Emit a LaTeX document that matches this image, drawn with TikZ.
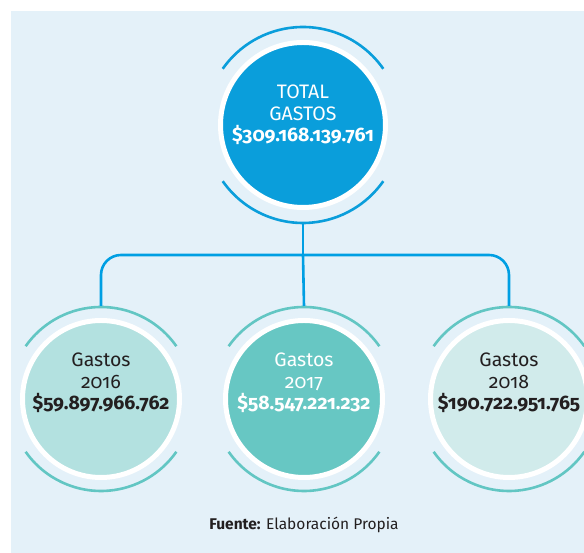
\documentclass[tikz,border=0pt]{standalone}
\usepackage{fontspec}
\setmainfont{Fira Sans}[Numbers=OldStyle]
\definecolor{bg}{HTML}{E4F1F9}
\definecolor{topblue}{HTML}{0A9EDB}
\definecolor{lineblue}{HTML}{009FE3}
\definecolor{teal}{HTML}{62C6C3}
\definecolor{fillA}{HTML}{B3E1E0}
\definecolor{fillB}{HTML}{67C7C3}
\definecolor{fillC}{HTML}{D1EBEB}
\definecolor{ink}{HTML}{231F20}
\tikzset{
  bigcirc/.style={circle, draw=white, line width=5pt, inner sep=0pt, minimum size=165pt},
  smallcirc/.style={circle, draw=white, line width=5pt, inner sep=0pt, minimum size=157pt},
  txt/.style={align=center, inner sep=0pt, font=\fontsize{19.5}{21.5}\selectfont},
  conn/.style={draw=lineblue, line width=2.6pt},
  toparc/.style={draw=topblue, line width=2.6pt},
  botarc/.style={draw=teal, line width=2.6pt}
}
\begin{document}
\begin{tikzpicture}[x=1pt,y=1pt]
\useasboundingbox (0,0) rectangle (584,553);
\fill[bg] (11,0) rectangle (584,542);
% circles
\node[bigcirc, fill=topblue] (top) at (303,428) {};
\node[smallcirc, fill=fillA] (c16) at (101,154) {};
\node[smallcirc, fill=fillB] (c17) at (304,154) {};
\node[smallcirc, fill=fillC] (c18) at (509,154) {};
% texts
\node[txt, text=white] (ttop) at ([yshift=10pt]top.center) {TOTAL\\GASTOS\\\textbf{\$309.168.139.761}};
\node[txt, text=ink] (t16) at ([yshift=16pt]c16.center) {Gastos\\2016\\\textbf{\$59.897.966.762}};
\node[txt, text=white] (t17) at ([yshift=16pt]c17.center) {Gastos\\2017\\\textbf{\$58.547.221.232}};
\node[txt, text=ink] (t18) at ([yshift=16pt]c18.center) {Gastos\\2018\\\textbf{\$190.722.951.765}};
% outer arcs
\draw[toparc] ([shift={(35:98)}]top.center) arc[start angle=35, end angle=145, radius=98];
\draw[toparc] ([shift={(215:98)}]top.center) arc[start angle=215, end angle=325, radius=98];
\foreach \c in {c16,c17,c18}{
  \draw[botarc] ([shift={(35:92)}]\c.center) arc[start angle=35, end angle=145, radius=92];
  \draw[botarc] ([shift={(215:92)}]\c.center) arc[start angle=215, end angle=325, radius=92];
}
% connectors
\coordinate (hub) at (303,298);
\draw[conn] ([yshift=-99pt]top.center) -- (hub);
\draw[conn, rounded corners=20pt] ([yshift=93pt]c16.center) |- (hub) -| ([yshift=93pt]c18.center);
\draw[conn] (hub) -- ([yshift=93pt]c17.center);
% source
\node[text=ink, font=\fontsize{15.5}{18}\selectfont] (src) at (304,28) {\textbf{Fuente:} Elaboración Propia};
\end{tikzpicture}
\end{document}
